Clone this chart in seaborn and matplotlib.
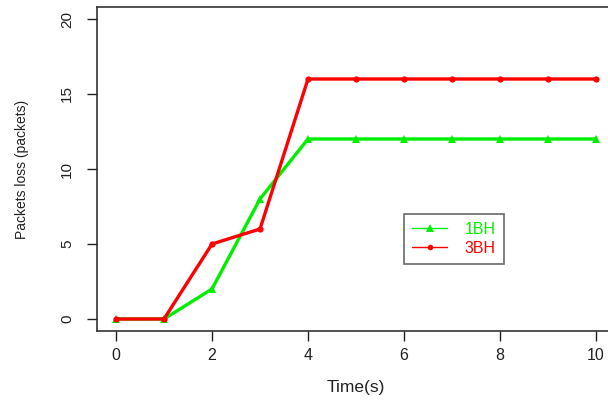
import matplotlib
matplotlib.use("Agg")
import matplotlib.pyplot as plt
import seaborn as sns
import pandas as pd
from matplotlib.lines import Line2D
from matplotlib.colors import to_hex

time = [0, 1, 2, 3, 4, 5, 6, 7, 8, 9, 10]
bh1 = [0, 0, 2, 8, 12, 12, 12, 12, 12, 12, 12]
bh3 = [0, 0, 5, 6, 16, 16, 16, 16, 16, 16, 16]
series_names = ["1BH", "3BH"]
colors = {"1BH": "#00ee00", "3BH": "#ff0000"}
xticks = [0, 2, 4, 6, 8, 10]
yticks = [0, 5, 10, 15, 20]

df = pd.concat([
    pd.DataFrame({"Time": time, "Loss": bh1, "Series": "1BH"}),
    pd.DataFrame({"Time": time, "Loss": bh3, "Series": "3BH"}),
])

sns.set_style("white")
plt.rcParams['font.family'] = ['Liberation Sans', 'DejaVu Sans']

W, H = 608, 400
fig = plt.figure(figsize=(W / 100, H / 100), dpi=100)
l, r, t, b = 96.8, 615.2, 7.0, 331.0
ax = fig.add_axes([l / W, 1 - b / H, (r - l) / W, (b - t) / H])

sns.lineplot(data=df, x="Time", y="Loss", hue="Series", style="Series",
             palette=colors, markers={"1BH": "^", "3BH": "o"}, dashes=False,
             linewidth=2.4, markersize=6, markeredgewidth=0, ax=ax, legend=False,
             sort=False)
for ln in ax.lines:
    if to_hex(ln.get_color()) == colors["3BH"]:
        ln.set_markersize(4.5)
ax.set_xlim(-0.4, 10.4)
ax.set_ylim(-0.8, 20.8)
ax.set_xticks(xticks)
ax.set_yticks(yticks)
ax.set_xticklabels([str(v) for v in xticks], fontsize=11.5, color="#222222")
ax.set_yticklabels([str(v) for v in yticks], fontsize=11, color="#222222",
                   rotation=90, va="center")
ax.tick_params(axis="both", direction="out", length=7.5, width=1, colors="#222222",
               bottom=True, left=True)
ax.tick_params(axis="x", pad=5)
ax.tick_params(axis="y", pad=9)
for s in ax.spines.values():
    s.set_color("#333333")
    s.set_linewidth(1.2)
ax.set_xlabel("Time(s)", fontsize=12.5, color="#222222", labelpad=12)
ax.set_ylabel("Packets loss (packets)", fontsize=10, color="#222222", labelpad=22)
ax.grid(False)

handles = [
    Line2D([], [], color=colors["1BH"], lw=1, marker="^", markersize=6, markeredgewidth=0),
    Line2D([], [], color=colors["3BH"], lw=1, marker="o", markersize=4, markeredgewidth=0),
]
leg = fig.legend(handles, series_names, loc="upper left",
                 bbox_to_anchor=(404 / W, 1 - 214 / H), fontsize=11.5,
                 frameon=True, fancybox=False, edgecolor="#444444",
                 handlelength=2.2, handletextpad=1.1, borderpad=0.5,
                 borderaxespad=0, labelspacing=0.25)
leg.get_frame().set_linewidth(1.2)
for txt, name in zip(leg.get_texts(), series_names):
    txt.set_color(colors[name])

fig.savefig("out.png", dpi=100)
